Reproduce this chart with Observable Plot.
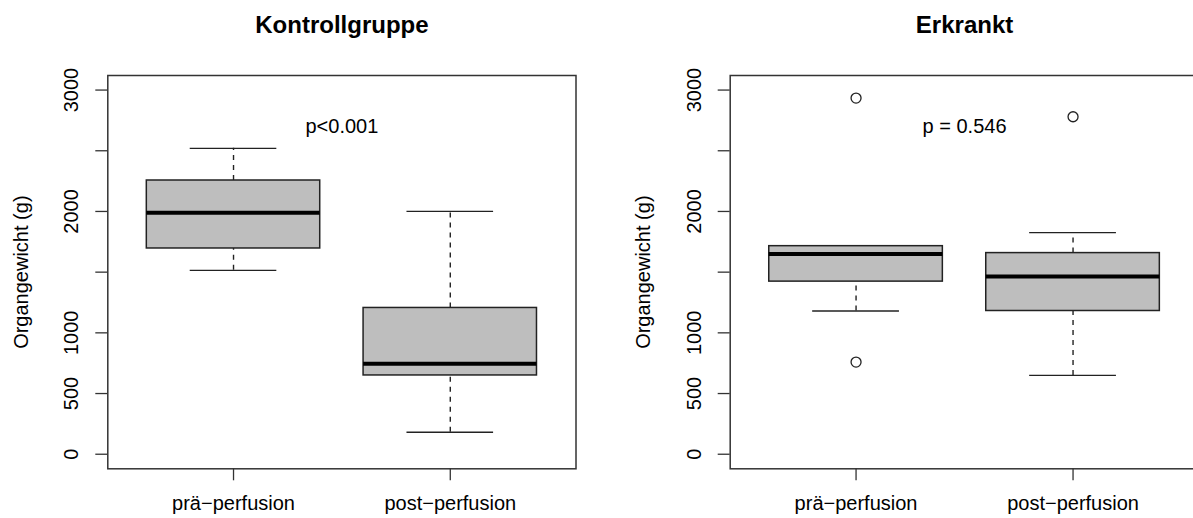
<!DOCTYPE html>
<html>
<head>
<meta charset="utf-8">
<script src="https://cdn.jsdelivr.net/npm/d3@7"></script>
<script src="https://cdn.jsdelivr.net/npm/@observablehq/plot@0.6"></script>
<style>
  html, body { margin: 0; padding: 0; background: white; }
  #chart { position: relative; width: 1193px; height: 518px; overflow: hidden; background: white; }
  #chart svg { position: absolute; top: 0; }
</style>
</head>
<body>
<div id="chart"></div>
<script>
// ---- data ----
const categories = ["prä−perfusion", "post−perfusion"];
const panelTitles = ["Kontrollgruppe", "Erkrankt"];
const pLabels = ["p<0.001", "p = 0.546"];
const whiskerLow  = [[1515, 181], [1180, 649]];
const quartile1   = [[1695, 649], [1422, 1180]];
const medians     = [[1990, 745], [1649, 1465]];
const quartile3   = [[2255, 1205], [1714, 1657]];
const whiskerHigh = [[2520, 2000], [1714, 1825]];
const outliers    = [[[], []], [[2934, 759], [2780]]];
const yTicks      = [0, 500, 1000, 1500, 2000, 2500, 3000];
const yTickLabels = ["0", "500", "1000", "", "2000", "", "3000"];
const yDomain     = [-120, 3120]; // ylim c(0, 3000) with R's 4% extension
const yLabel = "Organgewicht (g)";

const font = "'Liberation Sans', Arial, Helvetica, sans-serif";
const tickLabelMap = new Map(yTicks.map((t, i) => [t, yTickLabels[i]]));

function panel(p, left, width, marginLeft, marginRight) {
  const boxes = categories.map((c, i) => ({
    cat: c, lo: whiskerLow[p][i], q1: quartile1[p][i], med: medians[p][i],
    q3: quartile3[p][i], hi: whiskerHigh[p][i]
  }));
  const outs = categories.flatMap((c, i) => outliers[p][i].map(v => ({cat: c, v})));
  const svg = Plot.plot({
    width, height: 518,
    marginLeft, marginRight, marginTop: 75, marginBottom: 49.7,
    style: {fontFamily: font, fontSize: "20px", background: "white", color: "black", overflow: "visible"},
    x: {type: "band", domain: categories, paddingInner: 0.2, paddingOuter: 0.18, align: 0.5, round: false, label: null},
    y: {domain: yDomain, label: null},
    marks: [
      Plot.axisY({ticks: yTicks, tickFormat: d => tickLabelMap.get(d), tickSize: 12, tickRotate: -90,
                  tickPadding: 17.5, fontSize: 20, stroke: "#333", strokeWidth: 1.3,
                  label: yLabel, labelAnchor: "center", labelOffset: 94, labelArrow: "none"}),
      Plot.axisX({tickSize: 12, tickPadding: 14.5, fontSize: 20, stroke: "#333", strokeWidth: 1.3, label: null}),
      Plot.ruleX(boxes, {x: "cat", y1: "q3", y2: "hi", stroke: "#222", strokeWidth: 1.4, strokeDasharray: "5,5"}),
      Plot.ruleX(boxes, {x: "cat", y1: "lo", y2: "q1", stroke: "#222", strokeWidth: 1.4, strokeDasharray: "5,5"}),
      Plot.tickY(boxes, {x: "cat", y: "hi", insetLeft: 43.4, insetRight: 43.4, stroke: "#222", strokeWidth: 1.3}),
      Plot.tickY(boxes, {x: "cat", y: "lo", insetLeft: 43.4, insetRight: 43.4, stroke: "#222", strokeWidth: 1.3}),
      Plot.barY(boxes, {x: "cat", y1: "q1", y2: "q3", fill: "#BEBEBE", stroke: "#222", strokeWidth: 1.5}),
      Plot.tickY(boxes, {x: "cat", y: "med", stroke: "black", strokeWidth: 4}),
      Plot.dot(outs, {x: "cat", y: "v", r: 5, stroke: "#222", fill: "none", strokeWidth: 1.3}),
      Plot.text([pLabels[p]], {frameAnchor: "top", lineAnchor: "bottom", dy: 57, fontSize: 20, fill: "black"}),
      Plot.text([panelTitles[p]], {frameAnchor: "top", lineAnchor: "bottom", dy: -43, fontSize: 24, fontWeight: "bold", fill: "black"}),
      Plot.frame({stroke: "#333", strokeWidth: 1.5})
    ]
  });
  svg.style.left = left + "px";
  return svg;
}

const chart = document.getElementById("chart");
chart.appendChild(panel(0, 0, 596, 107.3, 20.5));
chart.appendChild(panel(1, 596, 620, 133.7, 17.6));
</script>
</body>
</html>
